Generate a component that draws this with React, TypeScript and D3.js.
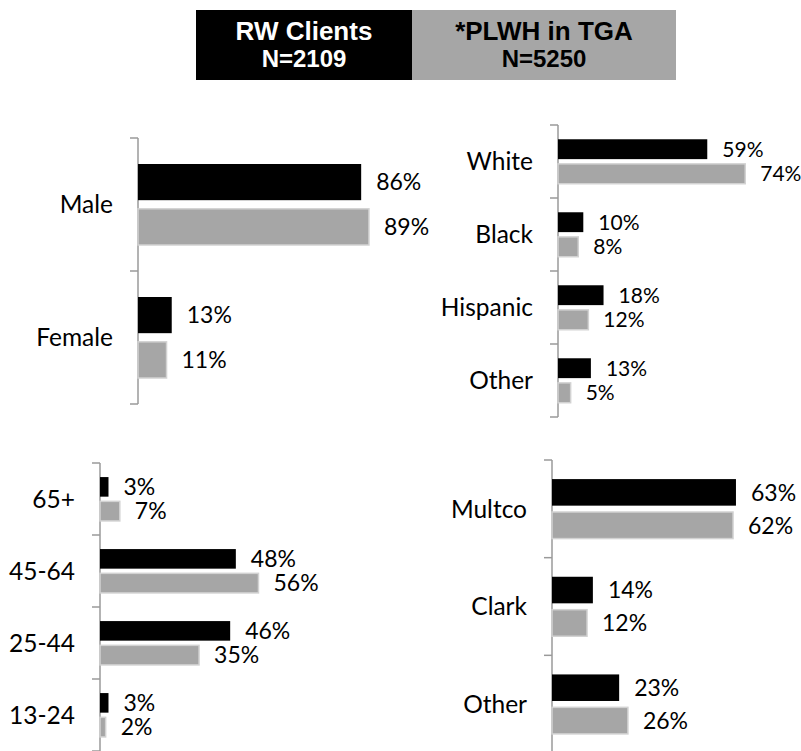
import React from "react";
import * as d3 from "d3";

const seriesKeys = ["RW Clients", "*PLWH in TGA"];
const seriesN = ["N=2109", "N=5250"];

const genderCats = ["Male", "Female"];
const genderRW = [86, 13];
const genderPLWH = [89, 11];

const raceCats = ["White", "Black", "Hispanic", "Other"];
const raceRW = [59, 10, 18, 13];
const racePLWH = [74, 8, 12, 5];

const ageCats = ["65+", "45-64", "25-44", "13-24"];
const ageRW = [3, 48, 46, 3];
const agePLWH = [7, 56, 35, 2];

const countyCats = ["Multco", "Clark", "Other"];
const countyRW = [63, 14, 23];
const countyPLWH = [62, 12, 26];

const W = 801;
const H = 751;
const LABEL_FONT = "Lato, 'Noto Sans', sans-serif";
const BLACK = "#000000";
const GRAY = "#a6a6a6";
const GRAY_EDGE = "#d2d2d2";
const AXIS = "#9a9a9a";

type PanelProps = {
  cats: string[];
  rw: number[];
  plwh: number[];
  axisX: number;
  top: number;
  bottom: number;
  width: number;
  valueSize: number;
};

function Panel({ cats, rw, plwh, axisX, top, bottom, width, valueSize }: PanelProps) {
  const x = d3.scaleLinear().domain([0, 100]).range([axisX, axisX + width]);
  const y = d3.scaleBand<string>().domain(cats).range([top, bottom]).padding(0);
  const inner = d3
    .scaleBand<string>()
    .domain(["rw", "plwh"])
    .range([0, y.bandwidth()])
    .paddingInner(0.193)
    .paddingOuter(0.58);
  const tickYs = [top, ...cats.map((c) => (y(c) as number) + y.bandwidth())];
  return (
    <g>
      <line x1={axisX} x2={axisX} y1={top} y2={bottom} stroke={AXIS} strokeWidth={1.5} />
      {tickYs.map((ty, i) => (
        <line key={"t" + i} x1={axisX - 8} x2={axisX} y1={ty} y2={ty} stroke={AXIS} strokeWidth={1.5} />
      ))}
      {cats.map((c, i) => {
        const y0 = y(c) as number;
        const yr = y0 + (inner("rw") as number);
        const yp = y0 + (inner("plwh") as number);
        const bh = inner.bandwidth();
        return (
          <g key={c}>
            <text
              x={axisX - 25}
              y={y0 + y.bandwidth() / 2}
              dy="0.36em"
              textAnchor="end"
              fontFamily={LABEL_FONT}
              fontSize={24.5}
              fill="#000"
            >
              {c}
            </text>
            <rect x={x(0)} y={yr} width={x(rw[i]) - x(0)} height={bh} fill={BLACK} />
            <rect
              x={x(0)}
              y={yp}
              width={x(plwh[i]) - x(0)}
              height={bh}
              fill={GRAY}
              stroke={GRAY_EDGE}
              strokeWidth={1.5}
            />
            <text
              x={x(rw[i]) + 15}
              y={yr + bh / 2}
              dy="0.36em"
              fontFamily={LABEL_FONT}
              fontSize={valueSize}
              fill="#000"
            >
              {rw[i] + "%"}
            </text>
            <text
              x={x(plwh[i]) + 15}
              y={yp + bh / 2}
              dy="0.36em"
              fontFamily={LABEL_FONT}
              fontSize={valueSize}
              fill="#000"
            >
              {plwh[i] + "%"}
            </text>
          </g>
        );
      })}
    </g>
  );
}

function Legend() {
  const boxes = [
    { x0: 196, x1: 412, fill: BLACK, color: "#ffffff" },
    { x0: 412, x1: 676, fill: GRAY, color: "#000000" },
  ];
  return (
    <g>
      {boxes.map((b, i) => (
        <g key={i}>
          <rect x={b.x0} y={10} width={b.x1 - b.x0} height={70} fill={b.fill} />
          <text
            x={(b.x0 + b.x1) / 2}
            y={40}
            textAnchor="middle"
            fontFamily="'Liberation Sans', Arial, sans-serif"
            fontWeight="bold"
            fontSize={26}
            fill={b.color}
          >
            {seriesKeys[i]}
          </text>
          <text
            x={(b.x0 + b.x1) / 2}
            y={67}
            textAnchor="middle"
            fontFamily="'Liberation Sans', Arial, sans-serif"
            fontWeight="bold"
            fontSize={24}
            fill={b.color}
          >
            {seriesN[i]}
          </text>
        </g>
      ))}
    </g>
  );
}

export default function App() {
  return (
    <svg
      width={W}
      height={H}
      viewBox={`0 0 ${W} ${H}`}
      style={{ position: "absolute", left: 0, top: 0, background: "#fff" }}
    >
      <rect x={0} y={0} width={W} height={H} fill="#fff" />
      <Legend />
      <Panel cats={genderCats} rw={genderRW} plwh={genderPLWH} axisX={138} top={138} bottom={404} width={259.5} valueSize={23} />
      <Panel cats={raceCats} rw={raceRW} plwh={racePLWH} axisX={558} top={125} bottom={417} width={253} valueSize={21} />
      <Panel cats={ageCats} rw={ageRW} plwh={agePLWH} axisX={100} top={463} bottom={751} width={283} valueSize={23} />
      <Panel cats={countyCats} rw={countyRW} plwh={countyPLWH} axisX={552} top={460} bottom={753} width={292} valueSize={23} />
    </svg>
  );
}
